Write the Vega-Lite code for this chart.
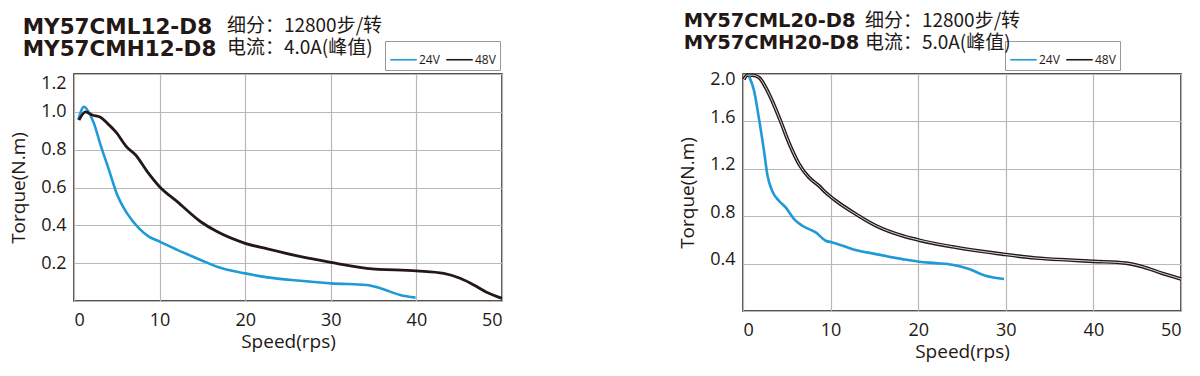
{
  "$schema": "https://vega.github.io/schema/vega-lite/v6.json",
  "background": "white",
  "padding": {"left": 8, "top": 10, "right": 0, "bottom": 0},
  "spacing": 168,
  "resolve": {"scale": {"color": "independent"}, "legend": {"color": "independent"}},
  "datasets": {
    "left": [
      {"speed": 0.5, "torque": 0.957, "voltage": "24V"},
      {"speed": 1.17, "torque": 1.027, "voltage": "24V"},
      {"speed": 1.7, "torque": 1.0, "voltage": "24V"},
      {"speed": 2.33, "torque": 0.939, "voltage": "24V"},
      {"speed": 3.1, "torque": 0.825, "voltage": "24V"},
      {"speed": 4.09, "torque": 0.692, "voltage": "24V"},
      {"speed": 5.06, "torque": 0.56, "voltage": "24V"},
      {"speed": 6.2, "torque": 0.463, "voltage": "24V"},
      {"speed": 7.6, "torque": 0.384, "voltage": "24V"},
      {"speed": 8.75, "torque": 0.34, "voltage": "24V"},
      {"speed": 10, "torque": 0.314, "voltage": "24V"},
      {"speed": 12.06, "torque": 0.27, "voltage": "24V"},
      {"speed": 14.8, "torque": 0.217, "voltage": "24V"},
      {"speed": 16.7, "torque": 0.181, "voltage": "24V"},
      {"speed": 20, "torque": 0.146, "voltage": "24V"},
      {"speed": 22.6, "torque": 0.125, "voltage": "24V"},
      {"speed": 26.5, "torque": 0.107, "voltage": "24V"},
      {"speed": 30, "torque": 0.093, "voltage": "24V"},
      {"speed": 34.2, "torque": 0.085, "voltage": "24V"},
      {"speed": 35.8, "torque": 0.067, "voltage": "24V"},
      {"speed": 38.1, "torque": 0.032, "voltage": "24V"},
      {"speed": 39.9, "torque": 0.018, "voltage": "24V"},
      {"speed": 0.58, "torque": 0.957, "voltage": "48V"},
      {"speed": 1.36, "torque": 1.0, "voltage": "48V"},
      {"speed": 2.14, "torque": 0.983, "voltage": "48V"},
      {"speed": 3.1, "torque": 0.971, "voltage": "48V"},
      {"speed": 3.9, "torque": 0.939, "voltage": "48V"},
      {"speed": 4.86, "torque": 0.895, "voltage": "48V"},
      {"speed": 6.2, "torque": 0.812, "voltage": "48V"},
      {"speed": 7.2, "torque": 0.772, "voltage": "48V"},
      {"speed": 8.56, "torque": 0.684, "voltage": "48V"},
      {"speed": 10, "torque": 0.604, "voltage": "48V"},
      {"speed": 12.06, "torque": 0.525, "voltage": "48V"},
      {"speed": 14.8, "torque": 0.419, "voltage": "48V"},
      {"speed": 16.7, "torque": 0.367, "voltage": "48V"},
      {"speed": 20, "torque": 0.305, "voltage": "48V"},
      {"speed": 22.6, "torque": 0.275, "voltage": "48V"},
      {"speed": 26.5, "torque": 0.234, "voltage": "48V"},
      {"speed": 30, "torque": 0.204, "voltage": "48V"},
      {"speed": 34.2, "torque": 0.173, "voltage": "48V"},
      {"speed": 40, "torque": 0.159, "voltage": "48V"},
      {"speed": 43.2, "torque": 0.146, "voltage": "48V"},
      {"speed": 45.1, "torque": 0.12, "voltage": "48V"},
      {"speed": 46.7, "torque": 0.085, "voltage": "48V"},
      {"speed": 48.2, "torque": 0.046, "voltage": "48V"},
      {"speed": 50, "torque": 0.014, "voltage": "48V"}
    ],
    "right": [
      {"speed": 0.69, "torque": 1.98, "voltage": "24V"},
      {"speed": 1.26, "torque": 1.86, "voltage": "24V"},
      {"speed": 1.83, "torque": 1.62, "voltage": "24V"},
      {"speed": 2.4, "torque": 1.35, "voltage": "24V"},
      {"speed": 2.78, "torque": 1.15, "voltage": "24V"},
      {"speed": 3.35, "torque": 1.01, "voltage": "24V"},
      {"speed": 4.1, "torque": 0.93, "voltage": "24V"},
      {"speed": 4.87, "torque": 0.874, "voltage": "24V"},
      {"speed": 5.83, "torque": 0.775, "voltage": "24V"},
      {"speed": 6.78, "torque": 0.719, "voltage": "24V"},
      {"speed": 8.3, "torque": 0.663, "voltage": "24V"},
      {"speed": 9.44, "torque": 0.593, "voltage": "24V"},
      {"speed": 10.2, "torque": 0.579, "voltage": "24V"},
      {"speed": 12.5, "torque": 0.522, "voltage": "24V"},
      {"speed": 15.2, "torque": 0.48, "voltage": "24V"},
      {"speed": 18.2, "torque": 0.438, "voltage": "24V"},
      {"speed": 20.1, "torque": 0.416, "voltage": "24V"},
      {"speed": 22, "torque": 0.404, "voltage": "24V"},
      {"speed": 23.9, "torque": 0.39, "voltage": "24V"},
      {"speed": 25.8, "torque": 0.354, "voltage": "24V"},
      {"speed": 27.7, "torque": 0.298, "voltage": "24V"},
      {"speed": 29.8, "torque": 0.27, "voltage": "24V"},
      {"speed": 0.1, "torque": 1.955, "voltage": "48V"},
      {"speed": 0.5, "torque": 1.99, "voltage": "48V"},
      {"speed": 1.07, "torque": 1.99, "voltage": "48V"},
      {"speed": 1.83, "torque": 1.97, "voltage": "48V"},
      {"speed": 2.6, "torque": 1.885, "voltage": "48V"},
      {"speed": 3.35, "torque": 1.77, "voltage": "48V"},
      {"speed": 4.3, "torque": 1.6, "voltage": "48V"},
      {"speed": 5.24, "torque": 1.42, "voltage": "48V"},
      {"speed": 6.4, "torque": 1.24, "voltage": "48V"},
      {"speed": 7.54, "torque": 1.126, "voltage": "48V"},
      {"speed": 8.68, "torque": 1.056, "voltage": "48V"},
      {"speed": 9.44, "torque": 1.0, "voltage": "48V"},
      {"speed": 10.6, "torque": 0.93, "voltage": "48V"},
      {"speed": 12.9, "torque": 0.817, "voltage": "48V"},
      {"speed": 15.2, "torque": 0.719, "voltage": "48V"},
      {"speed": 18.2, "torque": 0.635, "voltage": "48V"},
      {"speed": 20.1, "torque": 0.598, "voltage": "48V"},
      {"speed": 23.9, "torque": 0.542, "voltage": "48V"},
      {"speed": 29.6, "torque": 0.48, "voltage": "48V"},
      {"speed": 33.4, "torque": 0.447, "voltage": "48V"},
      {"speed": 37.2, "torque": 0.43, "voltage": "48V"},
      {"speed": 40, "torque": 0.419, "voltage": "48V"},
      {"speed": 43.7, "torque": 0.404, "voltage": "48V"},
      {"speed": 45.6, "torque": 0.374, "voltage": "48V"},
      {"speed": 47.9, "torque": 0.317, "voltage": "48V"},
      {"speed": 50, "torque": 0.27, "voltage": "48V"}
    ]
  },
  "config": {
    "view": {"stroke": "#231815", "strokeWidth": 1.5},
    "axis": {
      "labelFont": "Open Sans", "labelFontSize": 18, "labelColor": "#231815",
      "titleFont": "Open Sans", "titleFontSize": 19, "titleFontWeight": "normal", "titleColor": "#231815",
      "gridColor": "#b8b8b8", "gridWidth": 1.2, "domain": false, "ticks": false, "labelPadding": 8
    },
    "legend": {
      "direction": "horizontal", "symbolType": "stroke", "symbolSize": 700, "symbolStrokeWidth": 1.6,
      "labelFont": "Open Sans", "labelFontSize": 12, "labelColor": "#231815",
      "strokeColor": "#999999", "padding": 4, "columnPadding": 3, "labelOffset": 1
    }
  },
  "hconcat": [
    {
      "title": {"text": ["细分：12800步/转", "电流：4.0A(峰值)"], "anchor": "start", "dx": 218, "offset": -42, "font": "Noto Sans CJK SC", "fontSize": 19, "fontWeight": "normal", "lineHeight": 22, "color": "#231815"},
      "vconcat": [
        {
          "title": {"text": ["MY57CML12-D8", "MY57CMH12-D8"], "anchor": "start", "dx": 13, "offset": 14, "font": "DejaVu Sans", "fontSize": 21.5, "fontWeight": "bold", "lineHeight": 22, "color": "#231815"},
          "width": 428, "height": 227,
          "data": {"name": "left"},
          "encoding": {
            "x": {"field": "speed", "type": "quantitative", "title": "Speed(rps)", "scale": {"domain": [0, 50], "nice": false}, "axis": {"values": [0, 10, 20, 30, 40, 50], "labelPadding": 10, "titlePadding": 3}},
            "y": {"field": "torque", "type": "quantitative", "title": "Torque(N.m)", "scale": {"domain": [0, 1.2], "nice": false}, "axis": {"values": [0, 0.2, 0.4, 0.6, 0.8, 1.0, 1.2], "labelExpr": "datum.value == 0 ? '' : format(datum.value, '.1f')", "labelFlush": true, "titlePadding": 12}},
            "color": {"field": "voltage", "type": "nominal", "scale": {"domain": ["24V", "48V"], "range": ["#1e9ad6", "#231815"]}, "legend": {"title": null, "orient": "none", "legendX": 311, "legendY": -33}}
          },
          "layer": [
            {"transform": [{"filter": "datum.voltage == '24V'"}], "mark": {"type": "line", "interpolate": "monotone", "strokeWidth": 2.6}},
            {"transform": [{"filter": "datum.voltage == '48V'"}], "mark": {"type": "line", "interpolate": "monotone", "strokeWidth": 2.8}}
          ]
        }
      ]
    },
    {
      "title": {"text": ["细分：12800步/转", "电流：5.0A(峰值)"], "anchor": "start", "dx": 187, "offset": -42, "font": "Noto Sans CJK SC", "fontSize": 19, "fontWeight": "normal", "lineHeight": 22, "color": "#231815"},
      "vconcat": [
        {
          "title": {"text": ["MY57CML20-D8", "MY57CMH20-D8"], "anchor": "start", "dx": 5, "offset": 14, "font": "DejaVu Sans", "fontSize": 19.5, "fontWeight": "bold", "lineHeight": 22, "color": "#231815"},
          "width": 438, "height": 237,
          "data": {"name": "right"},
          "encoding": {
            "x": {"field": "speed", "type": "quantitative", "title": "Speed(rps)", "scale": {"domain": [0, 50], "nice": false}, "axis": {"values": [0, 10, 20, 30, 40, 50], "labelPadding": 10, "titlePadding": 3}},
            "y": {"field": "torque", "type": "quantitative", "title": "Torque(N.m)", "scale": {"domain": [0, 2.0], "nice": false}, "axis": {"values": [0, 0.4, 0.8, 1.2, 1.6, 2.0], "labelExpr": "datum.value == 0 ? '' : format(datum.value, '.1f')", "labelFlush": true, "labelOffset": -4, "titlePadding": 12}},
            "color": {"field": "voltage", "type": "nominal", "scale": {"domain": ["24V", "48V"], "range": ["#1e9ad6", "#231815"]}, "legend": {"title": null, "orient": "none", "legendX": 262, "legendY": -33}}
          },
          "layer": [
            {"transform": [{"filter": "datum.voltage == '48V'"}], "mark": {"type": "line", "interpolate": "monotone", "strokeWidth": 3.6}},
            {"transform": [{"filter": "datum.voltage == '48V'"}], "mark": {"type": "line", "interpolate": "monotone", "strokeWidth": 1}, "encoding": {"color": {"value": "#d9d9d9"}}},
            {"transform": [{"filter": "datum.voltage == '24V'"}], "mark": {"type": "line", "interpolate": "monotone", "strokeWidth": 2.6}}
          ]
        }
      ]
    }
  ]
}
